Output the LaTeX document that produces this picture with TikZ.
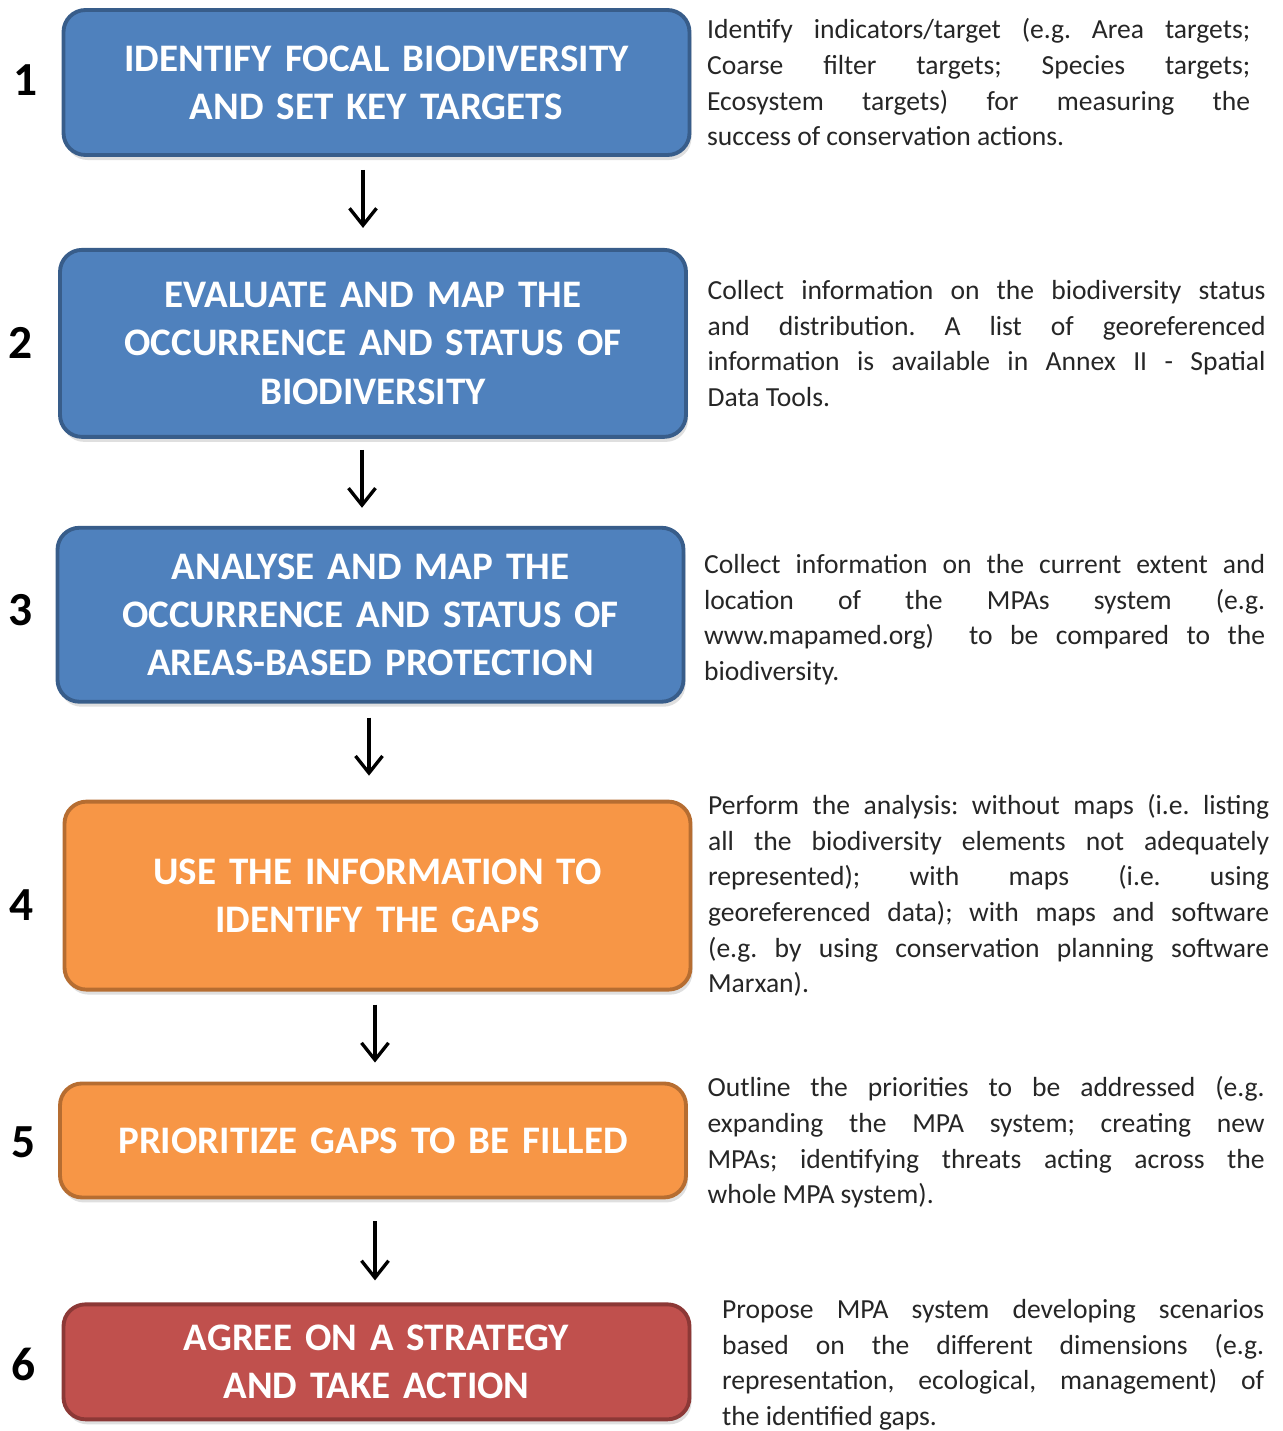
\documentclass[tikz,border=0pt]{standalone}
\usepackage{fontspec}
\setmainfont{Carlito}
\newfontfamily\boxfont{Carlito}[WordSpace=0.75]
\usetikzlibrary{arrows.meta, positioning, shadows}

\definecolor{stepblue}{HTML}{4F81BD}
\definecolor{stepblueline}{HTML}{385D8A}
\definecolor{steporange}{HTML}{F79646}
\definecolor{steporangeline}{HTML}{B66D31}
\definecolor{stepred}{HTML}{C0504D}
\definecolor{stepredline}{HTML}{8C3836}
\definecolor{desctext}{HTML}{262626}

\begin{document}
\frenchspacing
\hyphenpenalty=10000
\begin{tikzpicture}[
		% estilos de las cajas de pasos
		stepbox/.style = {rectangle, rounded corners=2.2mm, line width=1.1pt, minimum width=6.26cm,
			text width=6cm, align=center, text=white, inner sep=0pt,
			font=\boxfont\bfseries\fontsize{11.1}{13.7}\selectfont,
			drop shadow={shadow xshift=0.2mm, shadow yshift=-0.5mm, opacity=0.25}},
		bluebox/.style = {stepbox, fill=stepblue, draw=stepblueline},
		orangebox/.style = {stepbox, fill=steporange, draw=steporangeline},
		redbox/.style = {stepbox, fill=stepred, draw=stepredline},
		num/.style = {inner sep=0pt, font=\bfseries\fontsize{13.5}{14}\selectfont},
		desc/.style = {inner sep=0pt, align=justify, text=desctext,
			font=\fontsize{7.85}{10.15}\selectfont},
		flow/.style = {-{Straight Barb[length=1.7mm, width=2.7mm]}, line width=0.95pt},
		]
		\useasboundingbox (0,0) rectangle (12.83,-14.31);
		
		% --- PASOS ---
		\node [bluebox, minimum height=1.45cm] (b1) at (3.765,-0.825)
			{IDENTIFY FOCAL BIODIVERSITY\\AND SET KEY TARGETS};
		\node [bluebox, minimum height=1.87cm, below=0.91cm of b1, xshift=-0.35mm] (b2)
			{EVALUATE AND MAP THE\\OCCURRENCE AND STATUS OF\\BIODIVERSITY};
		\node [bluebox, minimum height=1.74cm, below=0.87cm of b2, xshift=-0.25mm] (b3)
			{ANALYSE AND MAP THE\\OCCURRENCE AND STATUS OF\\AREAS-BASED PROTECTION};
		\node [orangebox, minimum height=1.88cm, below=0.96cm of b3, xshift=0.7mm] (b4)
			{USE THE INFORMATION TO\\IDENTIFY THE GAPS};
		\node [orangebox, minimum height=1.14cm, below=0.90cm of b4, xshift=-0.45mm] (b5)
			{PRIORITIZE GAPS TO BE FILLED};
		\node [redbox, minimum height=1.15cm, below=1.03cm of b5, xshift=0.35mm] (b6)
			{AGREE ON A STRATEGY\\AND TAKE ACTION};
		
		% --- NUMEROS ---
		\node [num, left=0.23cm of b1, yshift=0.2mm] (n1) {1};
		\node [num, left=0.25cm of b2] (n2) {2};
		\node [num, left=0.22cm of b3, yshift=0.5mm] (n3) {3};
		\node [num, left=0.28cm of b4, yshift=-0.9mm] (n4) {4};
		\node [num, left=0.22cm of b5, yshift=-0.2mm] (n5) {5};
		\node [num, left=0.25cm of b6, yshift=-0.3mm] (n6) {6};
		
		% --- DESCRIPCIONES ---
		\node [desc, text width=5.43cm, right=0.15cm of b1] (d1)
			{Identify indicators/target (e.g. Area targets;\linebreak Coarse filter targets; Species targets;\linebreak Ecosystem targets) for measuring the\linebreak success of conservation actions.};
		\node [desc, text width=5.58cm, right=0.19cm of b2] (d2)
			{Collect information on the biodiversity status\linebreak and distribution. A list of georeferenced\linebreak information is available in Annex II - Spatial\linebreak Data Tools.};
		\node [desc, text width=5.61cm, right=0.18cm of b3, yshift=-0.5mm] (d3)
			{Collect information on the current extent and\linebreak location of the MPAs system (e.g.\linebreak www.mapamed.org)\ \ to be compared to the\linebreak biodiversity.};
		\node [desc, text width=5.61cm, right=0.15cm of b4] (d4)
			{Perform the analysis: without maps (i.e. listing\linebreak all the biodiversity elements not adequately\linebreak represented); with maps (i.e. using\linebreak georeferenced data); with maps and software\linebreak (e.g. by using conservation planning software\linebreak Marxan).};
		\node [desc, text width=5.57cm, right=0.19cm of b5, yshift=-0.2mm] (d5)
			{Outline the priorities to be addressed (e.g.\linebreak expanding the MPA system; creating new\linebreak MPAs; identifying threats acting across the\linebreak whole MPA system).};
		\node [desc, text width=5.42cm, right=0.30cm of b6, yshift=-0.3mm] (d6)
			{Propose MPA system developing scenarios\linebreak based on the different dimensions (e.g.\linebreak representation, ecological, management) of\linebreak the identified gaps.};
		
		% --- FLECHAS ---
		\draw [flow, shorten <=1.3mm, shorten >=2.0mm] ([xshift=-1.35mm]b1.south) -- ([xshift=-1.35mm]b1.south |- b2.north);
		\draw [flow, shorten <=1.1mm, shorten >=1.8mm] ([xshift=-1.1mm]b2.south) -- ([xshift=-1.1mm]b2.south |- b3.north);
		\draw [flow, shorten <=1.4mm, shorten >=2.4mm] ([xshift=-0.15mm]b3.south) -- ([xshift=-0.15mm]b3.south |- b4.north);
		\draw [flow, shorten <=1.3mm, shorten >=1.9mm] ([xshift=-0.25mm]b4.south) -- ([xshift=-0.25mm]b4.south |- b5.north);
		\draw [flow, shorten <=2.2mm, shorten >=2.2mm] ([xshift=0.2mm]b5.south) -- ([xshift=0.2mm]b5.south |- b6.north);
		
	\end{tikzpicture}
\end{document}
